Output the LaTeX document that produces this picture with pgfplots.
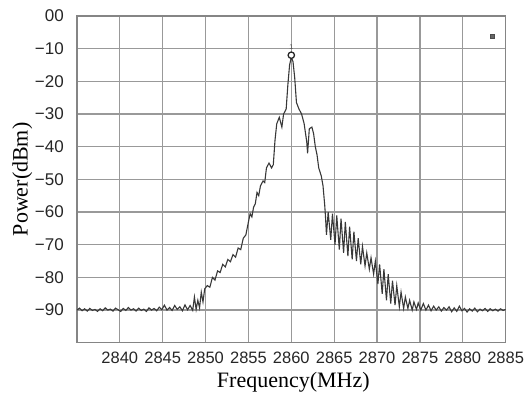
\documentclass[border=0pt]{standalone}
\usepackage{fontspec}
\setmainfont{Liberation Serif}
\newfontfamily\arial{Liberation Sans}
\usepackage{pgfplots}
\pgfplotsset{compat=1.18}
\begin{document}
\begin{tikzpicture}
\begin{axis}[
  scale only axis,
  width=429pt, height=327pt,
  at={(0pt,0pt)}, anchor=south west,
  xmin=2835, xmax=2885, ymin=-100, ymax=0,
  xtick={2840,2845,...,2885},
  xticklabels={2840,2845,2850,2855,2860,2865,2870,2875,2880,2885},
  ytick={-90,-80,...,0},
  yticklabels={−90,−80,−70,−60,−50,−40,−30,−20,−10,00},
  major tick length=0pt,
  grid=major,
  grid style={draw=black!40, line width=1.2pt},
  axis line style={draw=black!48, line width=1.2pt},
  xticklabel style={font=\arial\fontsize{16.5}{18}\selectfont, text=black!85, inner sep=0pt, anchor=north, yshift=-9pt},
  yticklabel style={font=\arial\fontsize{17}{18}\selectfont, text=black!85, inner sep=0pt, anchor=east, xshift=-13pt},
  xlabel={Frequency(MHz)},
  ylabel={Power(dBm)},
  xlabel style={font=\fontsize{22}{24}\selectfont, at={(axis description cs:0.5,0)}, anchor=base, yshift=-45pt, xshift=2pt},
  ylabel style={font=\fontsize{22}{24}\selectfont, at={(axis description cs:-0.115,0.5)}, anchor=base},
  clip=true,
]
\addplot[black!78, line width=1.1pt] coordinates {
(2835.0,-90.0) (2835.3,-89.4) (2835.6,-90.2) (2835.9,-89.6) (2836.2,-90.3) (2836.5,-89.5)
(2836.8,-90.1) (2837.1,-89.8) (2837.4,-90.4) (2837.7,-89.6) (2838.0,-90.2) (2838.3,-89.3)
(2838.6,-90.0) (2838.9,-89.7) (2839.2,-90.3) (2839.5,-89.4) (2839.8,-89.9) (2840.1,-90.4)
(2840.4,-89.5) (2840.7,-90.1) (2841.0,-89.2) (2841.3,-90.0) (2841.6,-89.6) (2841.9,-90.3)
(2842.2,-89.4) (2842.5,-90.1) (2842.8,-89.7) (2843.1,-90.4) (2843.4,-89.3) (2843.7,-90.0)
(2844.0,-89.5) (2844.3,-90.2) (2844.6,-89.1) (2844.9,-89.9) (2845.2,-88.5) (2845.5,-90.0)
(2845.8,-89.2) (2846.1,-90.1) (2846.4,-88.6) (2846.7,-89.8) (2847.0,-89.0) (2847.3,-90.2)
(2847.6,-88.4) (2847.9,-89.9) (2848.2,-88.6) (2848.5,-90.1) (2848.7,-86.0) (2848.9,-89.8)
(2849.1,-87.0) (2849.3,-89.3) (2849.5,-84.5) (2849.7,-87.5) (2849.9,-83.5) (2850.2,-82.5)
(2850.5,-83.0) (2850.8,-80.0) (2851.1,-80.8) (2851.4,-78.0) (2851.7,-78.5) (2852.0,-76.0)
(2852.3,-76.8) (2852.6,-74.5) (2852.9,-75.2) (2853.2,-73.0) (2853.5,-73.8) (2853.8,-71.0)
(2854.1,-71.5) (2854.4,-68.0) (2854.7,-67.0) (2855.0,-63.0) (2855.2,-60.5) (2855.4,-61.5)
(2855.6,-58.5) (2855.8,-57.5) (2856.0,-54.0) (2856.2,-55.0) (2856.4,-52.0) (2856.7,-50.5)
(2856.9,-51.0) (2857.1,-46.5) (2857.4,-45.0) (2857.7,-46.5) (2857.9,-45.5) (2858.1,-38.0)
(2858.3,-33.0) (2858.6,-31.0) (2858.9,-34.0) (2859.1,-30.0) (2859.4,-28.5) (2859.6,-21.0)
(2859.8,-15.0) (2860.0,-12.6) (2860.2,-14.0) (2860.4,-19.0) (2860.6,-26.5) (2860.9,-28.5)
(2861.2,-30.0) (2861.5,-33.0) (2861.8,-38.5) (2861.9,-42.0) (2862.1,-34.5) (2862.4,-34.0)
(2862.6,-36.0) (2862.8,-40.0) (2863.0,-42.5) (2863.2,-46.5) (2863.5,-49.0) (2863.7,-52.0)
(2863.9,-58.0) (2864.0,-62.0) (2864.1,-67.0) (2864.3,-60.0) (2864.6,-68.5) (2864.8,-60.5)
(2865.1,-70.0) (2865.3,-61.0) (2865.6,-71.5) (2865.8,-62.0) (2866.1,-72.5) (2866.3,-63.0)
(2866.6,-73.5) (2866.8,-64.5) (2867.1,-74.5) (2867.3,-66.0) (2867.6,-75.0) (2867.8,-68.0)
(2868.1,-76.0) (2868.3,-70.5) (2868.6,-76.5) (2868.8,-72.5) (2869.1,-77.5) (2869.3,-74.0)
(2869.6,-79.0) (2869.8,-75.0) (2870.1,-82.0) (2870.3,-76.0) (2870.6,-85.0) (2870.8,-77.5)
(2871.1,-87.0) (2871.3,-79.0) (2871.6,-88.0) (2871.8,-81.0) (2872.1,-88.5) (2872.3,-82.5)
(2872.6,-89.0) (2872.8,-84.5) (2873.1,-89.5) (2873.3,-86.0) (2873.6,-89.5) (2873.8,-87.0)
(2874.1,-90.0) (2874.3,-87.5) (2874.6,-89.8) (2874.8,-87.8) (2875.1,-90.0) (2875.4,-88.0)
(2875.7,-90.0) (2876.0,-88.5) (2876.3,-90.2) (2876.6,-88.8) (2876.9,-90.0) (2877.2,-89.0)
(2877.5,-90.3) (2877.8,-89.2) (2878.1,-90.0) (2878.4,-89.0) (2878.7,-90.5) (2879.0,-89.3)
(2879.3,-90.4) (2879.6,-88.8) (2879.9,-90.2) (2880.2,-89.5) (2880.5,-90.6) (2880.8,-89.6)
(2881.1,-90.3) (2881.4,-89.4) (2881.7,-90.5) (2882.0,-89.7) (2882.3,-90.2) (2882.6,-89.5)
(2882.9,-90.4) (2883.2,-89.6) (2883.5,-90.2) (2883.8,-89.7) (2884.1,-90.3) (2884.4,-89.6)
(2884.7,-90.1) (2885.0,-89.8)
};
\addplot[only marks, mark=*, mark size=3.2pt, mark options={draw=black!85, fill=white, line width=1.3pt},
  nodes near coords={1}, every node near coord/.style={font=\arial\fontsize{7}{7}\selectfont, text=black!70, anchor=south, yshift=2pt}]
  coordinates {(2860,-12)};
\addplot[only marks, mark=square*, mark size=1.8pt, mark options={draw=black!70, fill=black!60}]
  coordinates {(2883.4,-6.1)};
\end{axis}
\useasboundingbox (-77pt,-51pt) rectangle (447pt,343pt);
\end{tikzpicture}
\end{document}
